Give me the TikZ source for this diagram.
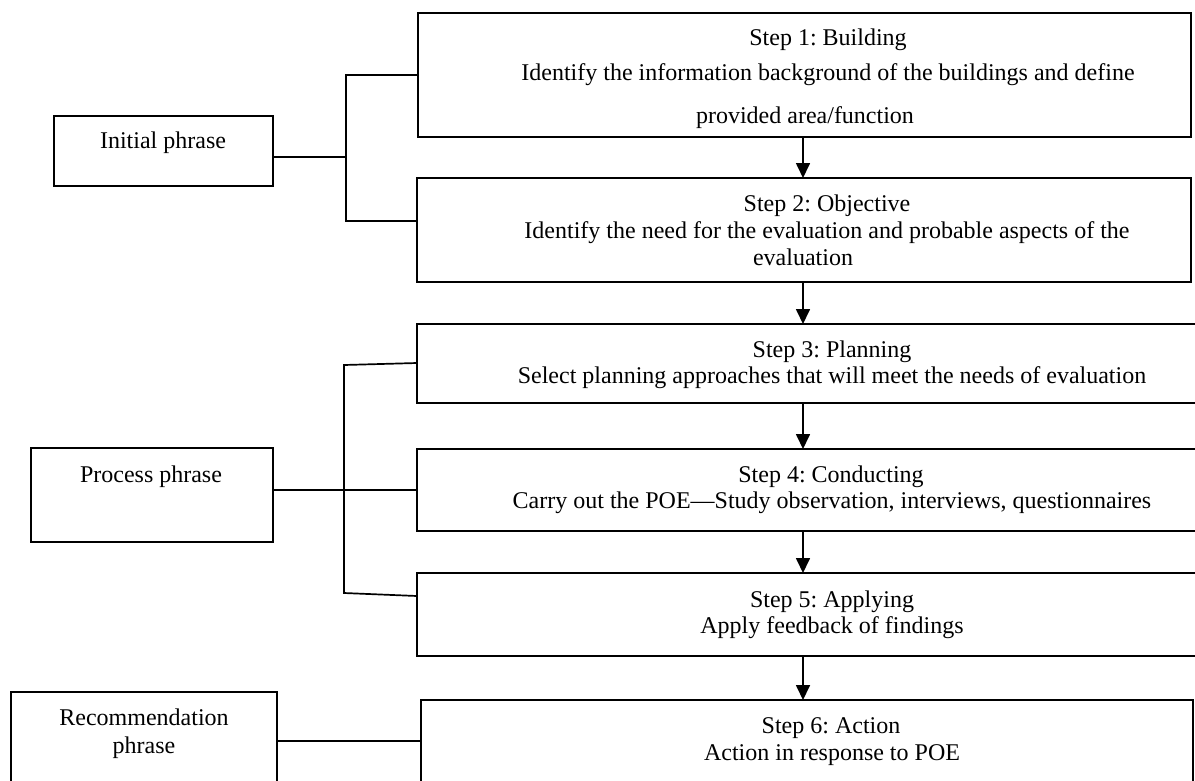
\documentclass[tikz,border=0pt]{standalone}
\usepackage{fontspec}
\setmainfont{Liberation Serif}
\usetikzlibrary{arrows.meta}
\frenchspacing
\begin{document}
\begin{tikzpicture}[x=1pt,y=-1pt,
  box/.style={draw=black,line width=1.7pt,rectangle,inner sep=0pt,outer sep=0pt,anchor=north west},
  txt/.style={anchor=base,inner sep=0pt,font=\fontsize{24}{27}\selectfont\frenchspacing},
  conn/.style={draw=black,line width=1.7pt},
  arr/.style={draw=black,line width=1.7pt,-{Triangle[length=15pt,width=14pt]}}]
\useasboundingbox (0,0) rectangle (1195,780);
\clip (0,0) rectangle (1195,780);
\fill[white] (0,0) rectangle (1195,780);
% step boxes
\node[box,minimum width=773pt,minimum height=124pt] (s1) at (418,13) {};
\node[box,minimum width=774pt,minimum height=104pt] (s2) at (417,178) {};
\node[box,minimum width=790pt,minimum height=79pt] (s3) at (417,324) {};
\node[box,minimum width=790pt,minimum height=82pt] (s4) at (417,449) {};
\node[box,minimum width=790pt,minimum height=83pt] (s5) at (417,573) {};
\node[box,minimum width=772pt,minimum height=95pt] (s6) at (421,700) {};
% phase boxes
\node[box,minimum width=219pt,minimum height=70pt] (p1) at (54,116) {};
\node[box,minimum width=242pt,minimum height=94pt] (p2) at (31,448) {};
\node[box,minimum width=266pt,minimum height=100pt] (p3) at (11,692) {};
% texts
\node[txt] (t1a) at (828,45) {Step 1: Building};
\node[txt] (t1b) at (828,80) {Identify the information background of the buildings and define};
\node[txt] (t1c) at (805,123) {provided area/function};
\node[txt] (t2a) at (827,211) {Step 2: Objective};
\node[txt] (t2b) at (827,238) {Identify the need for the evaluation and probable aspects of the};
\node[txt] (t2c) at (803,265) {evaluation};
\node[txt] (t3a) at (832,357) {Step 3: Planning};
\node[txt] (t3b) at (832,383) {Select planning approaches that will meet the needs of evaluation};
\node[txt] (t4a) at (831,482) {Step 4: Conducting};
\node[txt] (t4b) at (832,508) {Carry out the POE---Study observation, interviews, questionnaires};
\node[txt] (t5a) at (832,607) {Step 5: Applying};
\node[txt] (t5b) at (832,633) {Apply feedback of findings};
\node[txt] (t6a) at (831,733) {Step 6: Action};
\node[txt] (t6b) at (832,760) {Action in response to POE};
\node[txt] (tp1) at (163,148) {Initial phrase};
\node[txt] (tp2) at (151,482) {Process phrase};
\node[txt] (tp3a) at (144,725) {Recommendation};
\node[txt] (tp3b) at (144,753) {phrase};
% bracket coordinates
\coordinate (b1t) at (346,75);
\coordinate (b1m) at (346,157);
\coordinate (b1b) at (346,221);
\coordinate (b2t) at (344,365);
\coordinate (b2m) at (344,490);
\coordinate (b2b) at (344,593);
\coordinate (e1) at (418,75);
\coordinate (e2) at (417,221);
\coordinate (e3) at (417,363);
\coordinate (e5) at (417,596);
% connectors
\draw[conn] (p1.east |- b1m) -- (b1m);
\draw[conn] (e1) -- (b1t) -- (b1b) -- (e2);
\draw[conn] (p2.east |- b2m) -- (s4.west |- b2m);
\draw[conn] (e3) -- (b2t) -- (b2b) -- (e5);
\draw[conn] (p3.east |- 0,741) -- (s6.west |- 0,741);
% arrows
\coordinate (ax) at (803,0);
\draw[arr] (s1.south -| ax) -- (s2.north -| ax);
\draw[arr] (s2.south -| ax) -- (s3.north -| ax);
\draw[arr] (s3.south -| ax) -- (s4.north -| ax);
\draw[arr] (s4.south -| ax) -- (s5.north -| ax);
\draw[arr] (s5.south -| ax) -- (s6.north -| ax);
\end{tikzpicture}
\end{document}
